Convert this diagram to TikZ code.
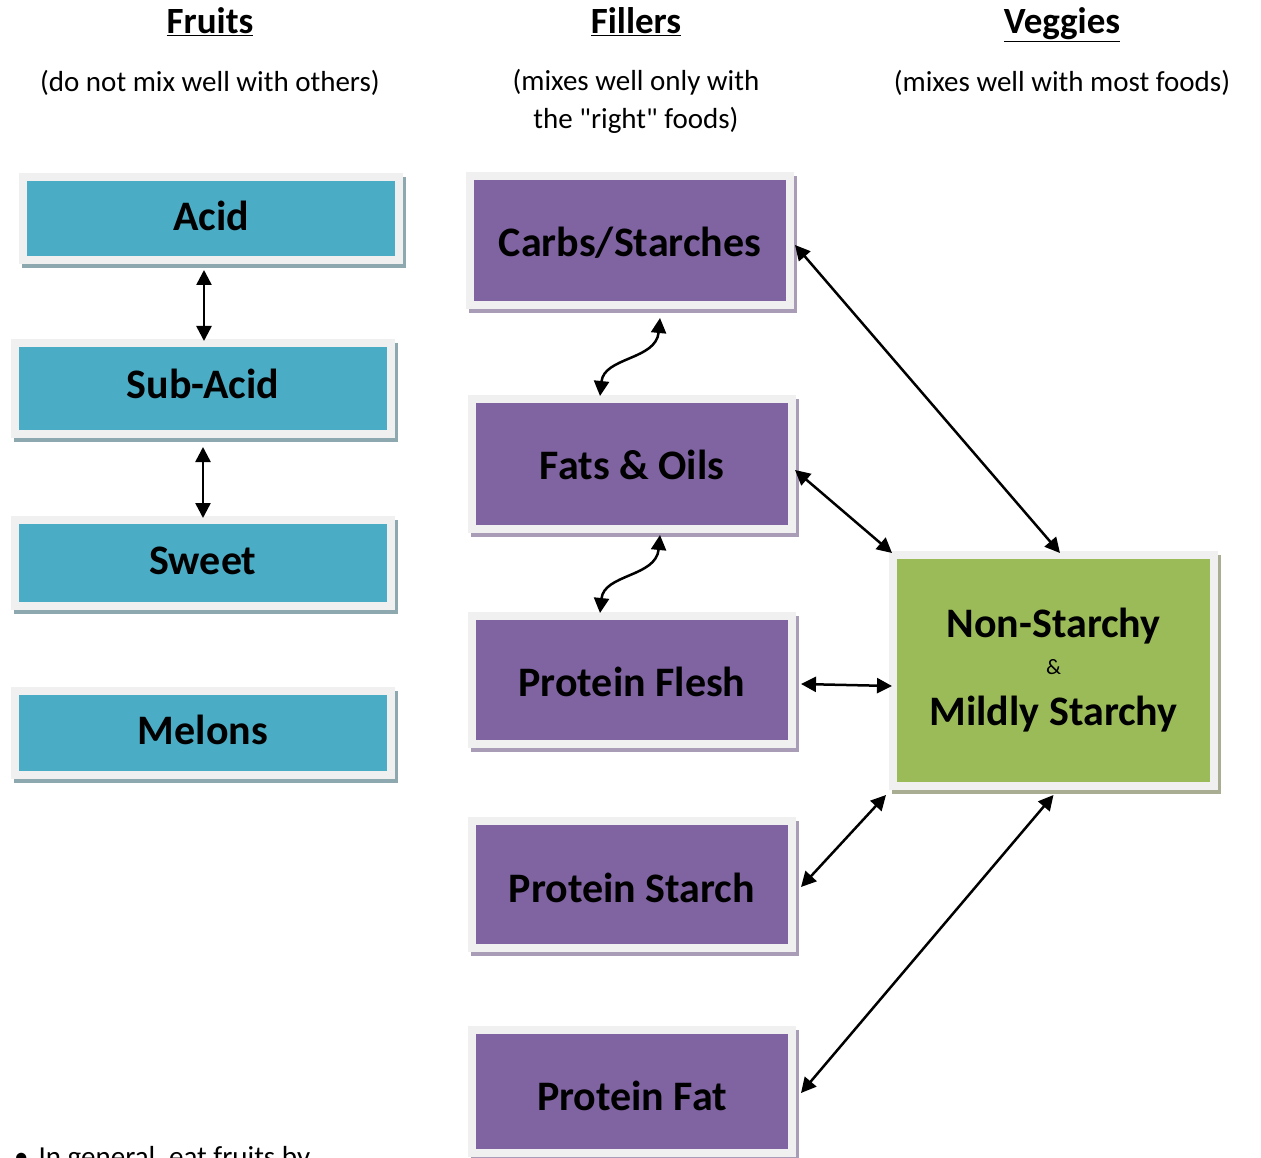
\documentclass[tikz,border=0pt]{standalone}
\usepackage{fontspec}
\setmainfont{Carlito}[Ligatures=TeXOff]
\usetikzlibrary{arrows.meta,calc}
\definecolor{fblue}{HTML}{4BACC6}
\definecolor{fpurple}{HTML}{8064A2}
\definecolor{fgreen}{HTML}{9BBB59}
\definecolor{framegray}{HTML}{F0F0F0}
\definecolor{bshadow}{HTML}{8EA8B0}
\definecolor{pshadow}{HTML}{A89CB6}
\definecolor{gshadow}{HTML}{A9AE92}
\begin{document}
\begin{tikzpicture}[x=1pt,y=-1pt,
  box/.style={rectangle, inner sep=0pt, draw=framegray, line width=8pt,
    font=\fontsize{42}{50}\selectfont\bfseries, text=black, text height=27pt, text depth=0pt},
  fruitbox/.style={box, fill=fblue, minimum width=376pt,
    preaction={draw=bshadow, fill=bshadow, line width=8pt, transform canvas={xshift=3pt,yshift=-4pt}}},
  fillbox/.style={box, fill=fpurple, minimum width=320pt,
    preaction={draw=pshadow, fill=pshadow, line width=8pt, transform canvas={xshift=3pt,yshift=-4pt}}},
  vegbox/.style={box, fill=fgreen, minimum width=321pt, text height=, text depth=, align=center,
    preaction={draw=gshadow, fill=gshadow, line width=8pt, transform canvas={xshift=3pt,yshift=-4pt}}},
  header/.style={inner sep=0pt, anchor=base, font=\fontsize{37}{44}\selectfont\bfseries},
  subtitle/.style={inner sep=0pt, anchor=base, font=\fontsize{29}{36}\selectfont, align=center},
  link/.style={{Triangle[length=15pt,width=15pt]}-{Triangle[length=15pt,width=15pt]}, line width=2.5pt}
]
\path[use as bounding box] (0,0) rectangle (1261,1158);
\clip (0,0) rectangle (1261,1158);
\fill[white] (0,0) rectangle (1261,1158);

% headers
\node[header] (hfruits) at (210,34) {\underline{Fruits}};
\node[header] (hfillers) at (636,34) {\underline{Fillers}};
\node[header] (hveggies) at (1062,34) {\underline{Veggies}};
\node[subtitle] (sfruits) at (210,92) {(do not mix well with others)};
\node[subtitle, anchor=north] (sfillers) at (636,69) {(mixes well only with\\[2.4pt]the "right" foods)};
\node[subtitle] (sveggies) at (1062,92) {(mixes well with most foods)};

% fruits
\node[fruitbox, minimum height=83pt, text height=24pt] (acid) at (211,218.5) {Acid};
\node[fruitbox, minimum height=91pt, text height=19pt] (subacid) at (203,388.5) {Sub-Acid};
\node[fruitbox, minimum height=86pt, text height=23pt] (sweet) at (203,563) {Sweet};
\node[fruitbox, minimum height=84pt, text height=23pt] (melons) at (203,733) {Melons};

% fillers
\node[fillbox, minimum height=129pt, text height=32pt] (carbs) at (630,240.5) {Carbs/Starches};
\node[fillbox, minimum height=130pt, text height=31pt] (fats) at (632,464) {Fats \& Oils};
\node[fillbox, minimum height=128pt, text height=33pt] (flesh) at (632,680) {Protein Flesh};
\node[fillbox, minimum height=127pt, text height=36pt] (pstarch) at (632,884.5) {Protein Starch};
\node[fillbox, minimum height=123pt, text height=38pt] (pfat) at (632,1091.5) {Protein Fat};

% veggies
\node[vegbox, minimum height=231pt] (veg) at (1053.5,670.5)
  {Non-Starchy\\[-13.5pt]{\fontsize{22}{26}\selectfont\mdseries\&}\\[1.5pt]Mildly Starchy};

% bullet
\node[inner sep=0pt, anchor=base west, font=\fontsize{29}{36}\selectfont] (bullet) at (14,1166)
  {\textbullet\hspace{10pt}In general, eat fruits by};

% connectors
\draw[link] ($(acid.south)+(-7,6)$) -- ($(subacid.north)+(1,2)$);
\draw[link] ($(subacid.south)+(0,9)$) -- ($(sweet.north)+(0,2)$);
\draw[link] ($(carbs.south)+(30,9)$) .. controls ($(carbs.south)+(26,51)$) and ($(fats.north)+(-28,-38)$) .. ($(fats.north)+(-32,1)$);
\draw[link] ($(fats.south)+(28,2)$) .. controls ($(fats.south)+(24,44)$) and ($(flesh.north)+(-28,-38)$) .. ($(flesh.north)+(-32,1)$);
\draw[link] ($(carbs.east)+(1,4.5)$) -- ($(veg.north)+(6.5,2)$);
\draw[link] ($(fats.east)+(-1,6)$) -- ($(veg.north west)+(3,2)$);
\draw[link] ($(flesh.east)+(5,4)$) -- ($(veg.west)+(3,15.5)$);
\draw[link] ($(pstarch.east)+(5,2.5)$) -- ($(veg.south west)+(-3,5)$);
\draw[link] ($(pfat.east)+(5,1.5)$) -- ($(veg.south)+(0,5)$);
\end{tikzpicture}
\end{document}
